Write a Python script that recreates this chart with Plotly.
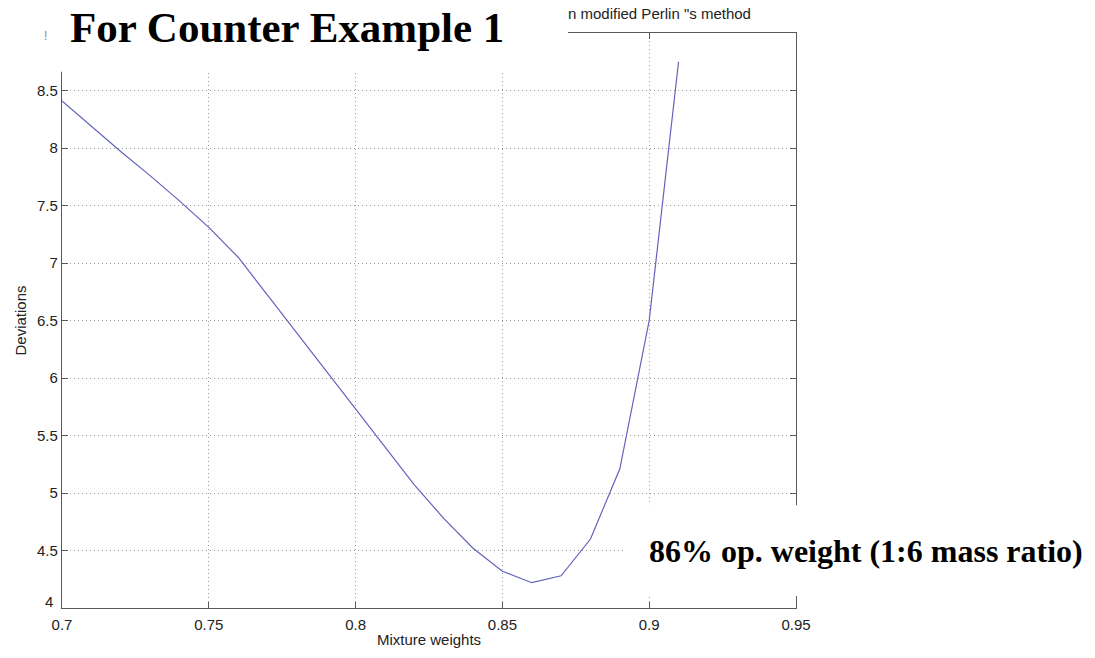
import plotly.graph_objects as go

# ---- data ----
mixture_weights = [0.70, 0.71, 0.72, 0.73, 0.74, 0.75, 0.76, 0.77, 0.78, 0.79, 0.80,
                   0.81, 0.82, 0.83, 0.84, 0.85, 0.86, 0.87, 0.88, 0.89, 0.90, 0.91]
deviations = [8.41, 8.19, 7.97, 7.76, 7.54, 7.31, 7.05, 6.72, 6.39, 6.06, 5.73,
              5.40, 5.07, 4.78, 4.52, 4.32, 4.22, 4.28, 4.60, 5.21, 6.50, 8.75]

x_ticks = [0.7, 0.75, 0.8, 0.85, 0.9, 0.95]
x_tick_labels = ["0.7", "0.75", "0.8", "0.85", "0.9", "0.95"]
y_ticks = [4, 4.5, 5, 5.5, 6, 6.5, 7, 7.5, 8, 8.5]
y_tick_labels = ["", "4.5", "5", "5.5", "6", "6.5", "7", "7.5", "8", "8.5"]
y_bottom_label = "4"

W, H = 1095, 658
L, R, T, B = 62, 299, 33, 48
PW, PH = W - L - R, H - T - B


def px(xp):
    return (xp - L) / PW


def py(yp):
    return (H - B - yp) / PH


fig = go.Figure()
fig.add_trace(go.Scatter(x=mixture_weights, y=deviations, mode="lines",
                         line=dict(color="#6262bc", width=1.2),
                         showlegend=False, hoverinfo="x+y"))

tick_font = dict(family="Liberation Sans, Arial", size=15, color="#222222")
axis_common = dict(showline=True, linecolor="#5a5a5a", linewidth=1.2, mirror="ticks",
                   ticks="inside", ticklen=6, tickcolor="#5a5a5a",
                   showgrid=True, gridcolor="#9a9a9a", griddash="1px,3px", gridwidth=1,
                   zeroline=False, tickfont=tick_font)

fig.update_layout(
    width=W, height=H,
    margin=dict(l=L, r=R, t=T, b=B, pad=0),
    paper_bgcolor="white", plot_bgcolor="white",
    xaxis=dict(range=[0.7, 0.95], tickvals=x_ticks, ticktext=x_tick_labels,
               ticklabelstandoff=3,
               title=dict(text="Mixture weights", standoff=2, font=tick_font),
               **axis_common),
    yaxis=dict(range=[4, 9], tickvals=y_ticks, ticktext=y_tick_labels,
               title=dict(text="Deviations", standoff=6, font=tick_font),
               **axis_common),
)

# bottom y tick label, sitting slightly higher as in the reference
fig.add_annotation(xref="paper", yref="y", x=px(55), y=4, yshift=7,
                   text=y_bottom_label, showarrow=False,
                   xanchor="right", yanchor="middle", font=tick_font)

# partially covered original title
fig.add_annotation(xref="paper", yref="paper", x=px(566), y=py(13),
                   text="n modified Perlin \"s method", showarrow=False,
                   xanchor="left", yanchor="middle", font=tick_font)

# white patches pasted over the chart
fig.add_shape(type="rect", xref="paper", yref="paper", layer="above",
              x0=px(0), x1=px(568), y0=py(72), y1=py(0),
              fillcolor="white", line=dict(width=0))
fig.add_shape(type="rect", xref="paper", yref="paper", layer="above",
              x0=px(625), x1=px(1095), y0=py(598), y1=py(507),
              fillcolor="white", line=dict(width=0))

fig.add_annotation(xref="paper", yref="paper", x=px(45), y=py(36),
                   text="!", showarrow=False, xanchor="center", yanchor="middle",
                   font=dict(family="Liberation Sans, Arial", size=12, color="#888888"))

fig.add_annotation(xref="paper", yref="paper", x=px(68), y=py(27),
                   text="<b>For Counter Example 1</b>", showarrow=False,
                   xanchor="left", yanchor="middle",
                   font=dict(family="Liberation Serif, Times New Roman", size=43, color="black"))

fig.add_annotation(xref="paper", yref="paper", x=px(647), y=py(553),
                   text="<b>86% op. weight (1:6 mass ratio)</b>", showarrow=False,
                   xanchor="left", yanchor="middle",
                   font=dict(family="Liberation Serif, Times New Roman", size=32, color="black"))

fig.write_html("out.html")
